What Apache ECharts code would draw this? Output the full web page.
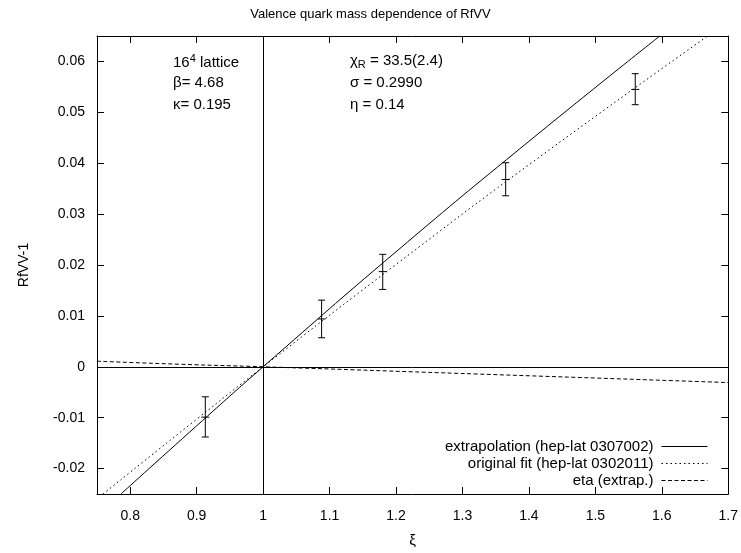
<!DOCTYPE html>
<html>
<head>
<meta charset="utf-8">
<script src="https://cdn.jsdelivr.net/npm/echarts@6/dist/echarts.min.js"></script>
<style>html,body{margin:0;padding:0;background:#fff}#c{width:741px;height:553px}</style>
</head>
<body>
<div id="c"></div>
<script>
// ---- data ----
const xTicks = [0.8, 0.9, 1.0, 1.1, 1.2, 1.3, 1.4, 1.5, 1.6, 1.7];
const yTicks = [-0.02, -0.01, 0, 0.01, 0.02, 0.03, 0.04, 0.05, 0.06];

const xiPoints = [0.913, 1.088, 1.18, 1.365, 1.56];
const rfvv     = [-0.0099, 0.0094, 0.0187, 0.0368, 0.0545];
const errLow   = [-0.0138, 0.0057, 0.0152, 0.0336, 0.0515];
const errHigh  = [-0.0059, 0.0131, 0.0221, 0.0401, 0.0576];

const extrapXi  = [0.786, 0.9, 1.0, 1.2, 1.4, 1.597];
const extrapVal = [-0.025, -0.0116, 0, 0.0226, 0.0443, 0.065];

const origXi  = [0.759, 0.9, 1.0, 1.2, 1.4, 1.669];
const origVal = [-0.025, -0.0103, 0, 0.0201, 0.0397, 0.065];

const etaXi  = [0.75, 0.874, 1.0, 1.326, 1.7];
const etaVal = [0.0011, 0.0005, 0, -0.00144, -0.0031];

const legendNames = ['extrapolation (hep-lat 0307002)', 'original fit (hep-lat 0302011)', 'eta (extrap.)'];

// ---- chart ----
const FONT = "'Liberation Sans', Arial, sans-serif";
const zip = (a, b) => a.map((v, i) => [v, b[i]]);
const chart = echarts.init(document.getElementById('c'), null, {renderer: 'canvas'});

const tickCommon = {show: true, inside: true, length: 7, lineStyle: {color: '#000', width: 1}};
const lineCommon = {show: true, onZero: false, lineStyle: {color: '#000', width: 1}};
const ANN = '15px ' + FONT;

const option = {
  animation: false,
  backgroundColor: '#fff',
  textStyle: {fontFamily: FONT, color: '#000'},
  title: {
    text: 'Valence quark mass dependence of RfVV',
    left: 'center', top: 3,
    textStyle: {fontFamily: FONT, fontSize: 13, fontWeight: 'normal', color: '#000'}
  },
  grid: {left: 97, right: 12, top: 36, bottom: 58},
  legend: {
    orient: 'vertical', right: 28, top: 434, align: 'right',
    itemWidth: 46, itemHeight: 14, itemGap: 2,
    data: legendNames,
    itemStyle: {opacity: 0},
    lineStyle: {width: 1},
    textStyle: {fontFamily: FONT, fontSize: 15, color: '#000', padding: [0, 3, 0, 0]}
  },
  xAxis: [{
    type: 'value', min: 0.75, max: 1.7, position: 'bottom',
    name: 'ξ', nameLocation: 'middle', nameGap: 39,
    nameTextStyle: {fontFamily: FONT, fontSize: 15, color: '#000'},
    axisLine: lineCommon,
    axisTick: Object.assign({customValues: xTicks}, tickCommon),
    axisLabel: {customValues: xTicks, margin: 15, fontSize: 14, color: '#000', fontFamily: FONT,
      formatter: v => String(parseFloat(v.toFixed(1)))},
    splitLine: {show: false}
  }, {
    type: 'value', min: 0.75, max: 1.7, position: 'top',
    axisLine: lineCommon,
    axisTick: Object.assign({customValues: xTicks}, tickCommon),
    axisLabel: {show: false}, splitLine: {show: false}
  }],
  yAxis: [{
    type: 'value', min: -0.025, max: 0.065, position: 'left',
    name: 'RfVV-1', nameLocation: 'middle', nameGap: 66, nameRotate: 90,
    nameTextStyle: {fontFamily: FONT, fontSize: 14, color: '#000'},
    axisLine: lineCommon,
    axisTick: Object.assign({customValues: yTicks}, tickCommon),
    axisLabel: {customValues: yTicks, margin: 12, fontSize: 14, color: '#000', fontFamily: FONT,
      formatter: v => Math.abs(v) < 1e-9 ? '0' : v.toFixed(2)},
    splitLine: {show: false}
  }, {
    type: 'value', min: -0.025, max: 0.065, position: 'right',
    axisLine: lineCommon,
    axisTick: Object.assign({customValues: yTicks}, tickCommon),
    axisLabel: {show: false}, splitLine: {show: false}
  }],
  graphic: [
    {type: 'text', left: 173, top: 53, style: {
      text: '{n|16}{s|4}{n| lattice}',
      rich: {n: {fontSize: 15, fontFamily: FONT, fill: '#000'}, s: {fontSize: 11, fontFamily: FONT, fill: '#000', verticalAlign: 'top', padding: [0,0,8,0]}}
    }},
    {type: 'text', left: 173, top: 75, style: {text: 'β= 4.68', font: ANN, fill: '#000'}},
    {type: 'text', left: 173, top: 97, style: {text: 'κ= 0.195', font: ANN, fill: '#000'}},
    {type: 'text', left: 350, top: 53, style: {
      text: '{n|χ}{s|R}{n| = 33.5(2.4)}',
      rich: {n: {fontSize: 15, fontFamily: FONT, fill: '#000'}, s: {fontSize: 11, fontFamily: FONT, fill: '#000', padding: [8,0,0,0]}}
    }},
    {type: 'text', left: 350, top: 75, style: {text: 'σ = 0.2990', font: ANN, fill: '#000'}},
    {type: 'text', left: 350, top: 97, style: {text: 'η = 0.14', font: ANN, fill: '#000'}}
  ],
  series: [
    {
      name: legendNames[0], type: 'line', data: zip(extrapXi, extrapVal),
      symbol: 'none', smooth: true, lineStyle: {color: '#000', width: 1, type: 'solid'},
      itemStyle: {color: '#000'}, silent: true, clip: true,
      markLine: {
        symbol: 'none', silent: true, label: {show: false},
        lineStyle: {color: '#000', width: 1, type: 'solid'},
        data: [{xAxis: 1}, {yAxis: 0}]
      }
    },
    {
      name: legendNames[1], type: 'line', data: zip(origXi, origVal),
      symbol: 'none', smooth: true, lineStyle: {color: '#000', width: 1, type: [1.5, 3]},
      itemStyle: {color: '#000'}, silent: true, clip: true
    },
    {
      name: legendNames[2], type: 'line', data: zip(etaXi, etaVal),
      symbol: 'none', smooth: true, lineStyle: {color: '#000', width: 1, type: [4, 2.5]},
      itemStyle: {color: '#000'}, silent: true, clip: true
    },
    {
      name: 'data', type: 'custom', silent: true,
      data: xiPoints.map((x, i) => [x, rfvv[i], errLow[i], errHigh[i]]),
      encode: {x: 0, y: 1},
      renderItem: function (params, api) {
        const x = api.value(0);
        const c = api.coord([x, api.value(1)]);
        const lo = api.coord([x, api.value(2)]);
        const hi = api.coord([x, api.value(3)]);
        const st = {stroke: '#000', lineWidth: 1, fill: null};
        const cw = 3.5;
        return {
          type: 'group',
          children: [
            {type: 'line', shape: {x1: lo[0], y1: lo[1], x2: hi[0], y2: hi[1]}, style: st},
            {type: 'line', shape: {x1: lo[0]-cw, y1: lo[1], x2: lo[0]+cw, y2: lo[1]}, style: st},
            {type: 'line', shape: {x1: hi[0]-cw, y1: hi[1], x2: hi[0]+cw, y2: hi[1]}, style: st},
            {type: 'line', shape: {x1: c[0]-4, y1: c[1], x2: c[0]+4, y2: c[1]}, style: st}
          ]
        };
      }
    }
  ]
};
chart.setOption(option);
</script>
</body>
</html>
